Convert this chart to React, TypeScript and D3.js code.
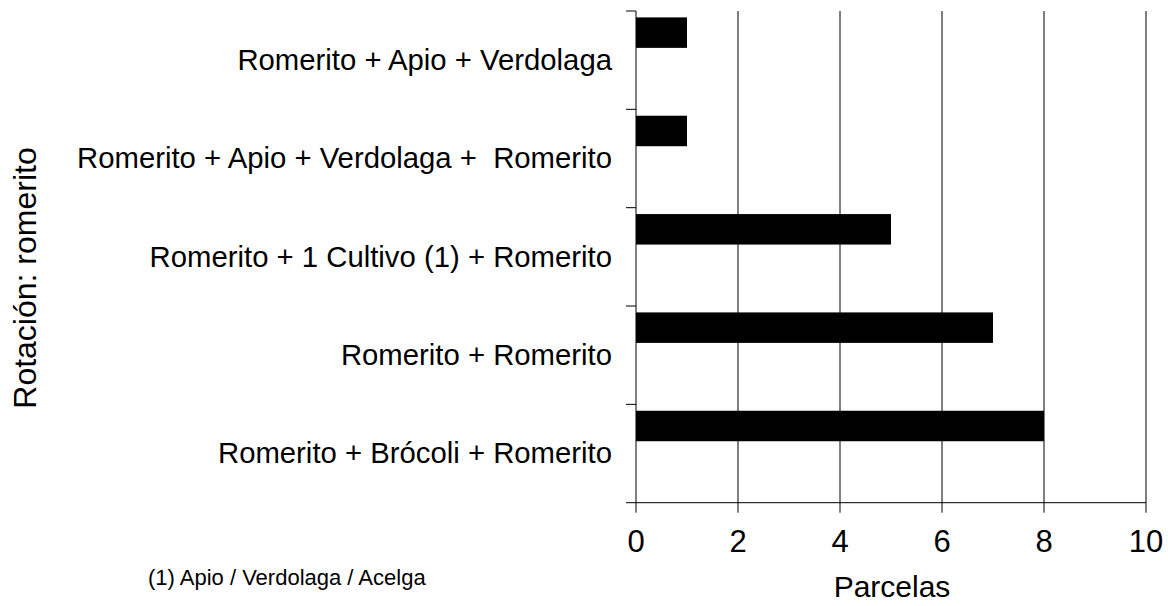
import React from "react";
import * as d3 from "d3";

const categories = [
  "Romerito + Apio + Verdolaga",
  "Romerito + Apio + Verdolaga +  Romerito",
  "Romerito + 1 Cultivo (1) + Romerito",
  "Romerito + Romerito",
  "Romerito + Brócoli + Romerito",
];
const values = [1, 1, 5, 7, 8];
const xTicks = [0, 2, 4, 6, 8, 10];
const xTitle = "Parcelas";
const yTitle = "Rotación: romerito";
const footnote = "(1) Apio / Verdolaga / Acelga";

export default function App() {
  const W = 1168, H = 606;
  const left = 636, right = 1146, top = 11, bottom = 502.7;
  const x = d3.scaleLinear().domain([0, 10]).range([left, right]);
  const y = d3.scaleBand().domain(categories).range([top, bottom]).padding(0);
  const bw = y.bandwidth();
  const font = "Liberation Sans, Arial, sans-serif";
  return (
    <svg width={W} height={H} style={{ position: "absolute", left: 0, top: 0, background: "#fff" }}>
      <rect width={W} height={H} fill="#fff" />
      {xTicks.filter(t => t > 0).map(t => (
        <line key={t} x1={x(t)} x2={x(t)} y1={top} y2={bottom} stroke="#000" strokeWidth={1} />
      ))}
      {categories.map((c, i) => (
        <rect key={c} x={x(0)} y={y(c)! + bw * 0.065} width={x(values[i]) - x(0)} height={bw * 0.31} fill="#000" />
      ))}
      <line x1={left} x2={left} y1={top} y2={bottom} stroke="#000" />
      <line x1={left} x2={right} y1={bottom} y2={bottom} stroke="#000" />
      {[...categories.map(c => y(c)!), bottom].map((v, i) => (
        <line key={i} x1={left - 10} x2={left} y1={v} y2={v} stroke="#000" />
      ))}
      {xTicks.map(t => (
        <line key={t} x1={x(t)} x2={x(t)} y1={bottom} y2={bottom + 10} stroke="#000" />
      ))}
      {categories.map(c => (
        <text key={c} x={612} y={y(c)! + bw / 2 + 2} fontFamily={font} fontSize={29.3} textAnchor="end" dominantBaseline="middle" style={{ whiteSpace: "pre" }} xmlSpace="preserve">{c}</text>
      ))}
      {xTicks.map(t => (
        <text key={t} x={x(t)} y={552} fontFamily={font} fontSize={31} textAnchor="middle">{t}</text>
      ))}
      <text x={892} y={597} fontFamily={font} fontSize={30} textAnchor="middle">{xTitle}</text>
      <text transform={`translate(36,278) rotate(-90)`} fontFamily={font} fontSize={32} textAnchor="middle">{yTitle}</text>
      <text x={148} y={585} fontFamily={font} fontSize={22}>{footnote}</text>
    </svg>
  );
}
